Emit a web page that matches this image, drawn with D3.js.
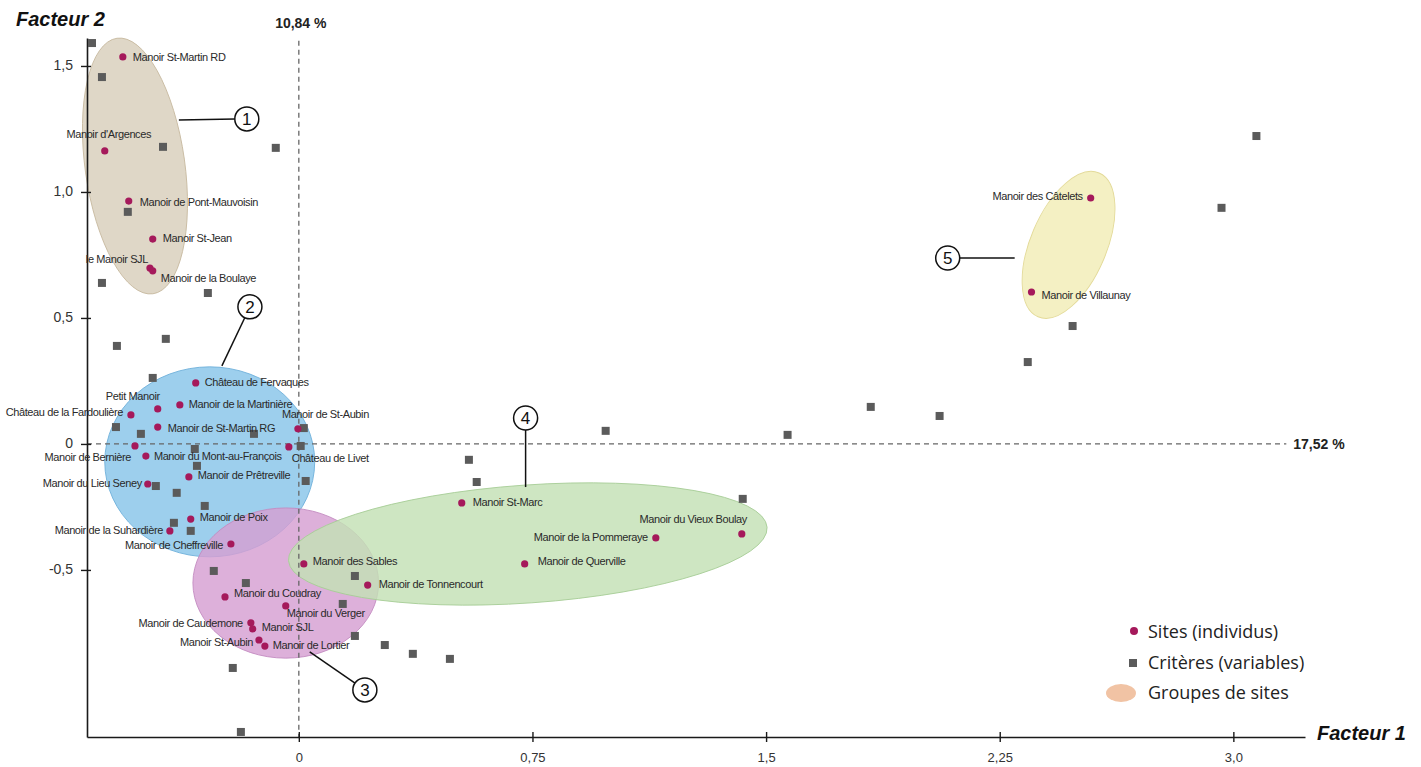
<!DOCTYPE html>
<html><head><meta charset="utf-8">
<script src="https://cdn.jsdelivr.net/npm/d3@7"></script>
<style>body{margin:0;background:#fff}svg{display:block}</style>
</head><body>
<svg id="chart" width="1421" height="767"></svg>
<script>
// ---------- DATA ----------
const siteNames = [
  "Manoir St-Martin RD","Manoir d'Argences","Manoir de Pont-Mauvoisin","Manoir St-Jean",
  "le Manoir SJL","Manoir de la Boulaye","Château de Fervaques","Petit Manoir",
  "Manoir de la Martinière","Château de la Fardoulière","Manoir de St-Martin RG","Manoir de St-Aubin",
  "Château de Livet","Manoir de Bernière","Manoir du Mont-au-François","Manoir de Prêtreville",
  "Manoir du Lieu Seney","Manoir de Poix","Manoir de la Suhardière","Manoir de Cheffreville",
  "Manoir des Sables","Manoir de Tonnencourt","Manoir du Coudray","Manoir du Verger",
  "Manoir de Caudemone","Manoir SJL","Manoir St-Aubin","Manoir de Lortier",
  "Manoir St-Marc","Manoir de Querville","Manoir de la Pommeraye","Manoir du Vieux Boulay",
  "Manoir des Câtelets","Manoir de Villaunay"
];
const siteX = [-0.565,-0.623,-0.546,-0.469,-0.478,-0.469,-0.331,-0.453,-0.382,-0.539,-0.453,-0.003,
  -0.032,-0.526,-0.491,-0.353,-0.485,-0.347,-0.414,-0.218,0.016,0.221,-0.237,-0.042,
  -0.154,-0.148,-0.128,-0.109,0.523,0.725,1.146,1.422,2.542,2.352];
const siteY = [1.536,1.163,0.964,0.813,0.698,0.687,0.242,0.139,0.155,0.115,0.067,0.060,
  -0.012,-0.008,-0.048,-0.131,-0.159,-0.298,-0.345,-0.397,-0.476,-0.560,-0.607,-0.643,
  -0.710,-0.734,-0.778,-0.802,-0.234,-0.476,-0.373,-0.357,0.976,0.603];

const critX = [-0.664,-0.632,-0.436,-0.074,-0.549,-0.632,-0.292,-0.427,-0.584,-0.469,-0.587,-0.507,
  -0.144,0.016,-0.334,0.006,-0.327,-0.459,0.022,-0.392,-0.302,-0.401,-0.347,-0.273,
  -0.170,0.180,0.141,0.180,0.276,0.366,0.485,-0.212,-0.186,0.546,0.571,0.985,
  1.425,1.569,1.836,2.057,2.340,2.484,2.962,3.074];
const critY = [1.591,1.456,1.179,1.175,0.921,0.639,0.599,0.417,0.389,0.262,0.067,0.040,
  0.040,0.063,-0.020,-0.008,-0.087,-0.167,-0.147,-0.194,-0.246,-0.313,-0.345,-0.504,
  -0.552,-0.524,-0.635,-0.762,-0.798,-0.833,-0.853,-0.889,-1.143,-0.063,-0.151,0.052,
  -0.218,0.036,0.147,0.111,0.325,0.468,0.937,1.222];

// site groups (ellipses in factor units)
const groupIds   = ["1","2","3","4","5"];
const groupCX    = [-0.526,-0.286,-0.042,0.735,2.471];
const groupCY    = [1.103,-0.071,-0.552,-0.397,0.790];
const groupRX    = [0.160,0.337,0.298,0.770,0.122];
const groupRY    = [0.512,0.377,0.298,0.234,0.310];
const groupAngle = [-8,0,0,-4,23];
// callout bubble centre and pointer end (factor units)
const calloutCX   = [-0.167,-0.157,0.212,0.728,2.083];
const calloutCY   = [1.290,0.544,-0.976,0.103,0.738];
const calloutEndX = [-0.385,-0.247,0.035,0.728,2.298];
const calloutEndY = [1.286,0.310,-0.825,-0.171,0.738];

const xTicks = [0,0.75,1.5,2.25,3.0];
const xTickLabels = ["0","0,75","1,5","2,25","3,0"];
const yTicks = [-0.5,0,0.5,1.0,1.5];
const yTickLabels = ["-0,5","0","0,5","1,0","1,5"];
const xAxisTitle = "Facteur 1", yAxisTitle = "Facteur 2";
const xInertia = "17,52 %", yInertia = "10,84 %";
const legendLabels = ["Sites (individus)","Critères (variables)","Groupes de sites"];

// ---------- LAYOUT / STYLE ----------
// label placement [dx, dy, anchor] per site (pixels)
const labelPlace = [
  [10,4,"start"],[4,-13,"middle"],[11,5,"start"],[10,3,"start"],
  [-2,-5,"end"],[8,11,"start"],[9,3,"start"],[2,-9,"end"],
  [9,3,"start"],[-8,1,"end"],[10,5,"start"],[-16,-11,"start"],
  [3,15,"start"],[-4,15,"end"],[8,4,"start"],[9,2,"start"],
  [-6,3,"end"],[9,2,"start"],[-7,3,"end"],[-8,5,"end"],
  [9,1,"start"],[11,3,"start"],[9,0,"start"],[1,11,"start"],
  [-8,4,"end"],[9,2,"start"],[-6,6,"end"],[8,3,"start"],
  [11,3,"start"],[13,1,"start"],[-8,3,"end"],[5,-11,"end"],
  [-8,2,"end"],[10,7,"start"]
];
const groupFill   = ["#d8cebb","#88c4e9","#d59fd2","#c3e0b4","#f2edb6"];
const groupStroke = ["#c8bba2","#6eb0da","#c38bc1","#a8cd97","#e3da98"];
const siteColor = "#a5195b", critColor = "#5b5b5b";
const F = "'Liberation Sans', Arial, Helvetica, sans-serif";

const svg = d3.select("#chart");
const x = d3.scaleLinear().domain([-0.68, 3.23]).range([87, 1305]);
const y = d3.scaleLinear().domain([-1.163, 1.611]).range([737, 38]);

// group ellipses
const groups = groupIds.map((id,i)=>({id,cx:groupCX[i],cy:groupCY[i],rx:groupRX[i],ry:groupRY[i],a:groupAngle[i],i}));
svg.append("g").selectAll("ellipse").data(groups).join("ellipse")
  .attr("transform", d=>`translate(${x(d.cx)},${y(d.cy)}) rotate(${d.a})`)
  .attr("rx", d=>x(d.cx+d.rx)-x(d.cx))
  .attr("ry", d=>y(d.cy)-y(d.cy+d.ry))
  .attr("fill", d=>groupFill[d.i]).attr("fill-opacity",0.82)
  .attr("stroke", d=>groupStroke[d.i]).attr("stroke-width",0.9);

// dashed reference lines
svg.append("line").attr("x1",x(0)).attr("x2",x(0)).attr("y1",y(1.6)).attr("y2",y.range()[0])
  .attr("stroke","#666").attr("stroke-width",1.3).attr("stroke-dasharray","5,4");
svg.append("line").attr("x1",x.range()[0]).attr("x2",x(3.17)).attr("y1",y(0)).attr("y2",y(0))
  .attr("stroke","#666").attr("stroke-width",1.3).attr("stroke-dasharray","5,4");

// axes
const yAxis = d3.axisLeft(y).tickValues(yTicks).tickFormat((d,i)=>yTickLabels[i])
  .tickSize(6).tickSizeOuter(0).tickPadding(8);
const gy = svg.append("g").attr("transform",`translate(${x.range()[0]},0)`).call(yAxis);
gy.select(".domain").attr("stroke","#1a1a1a").attr("stroke-width",1.6);
gy.selectAll(".tick line").attr("x1",4).attr("x2",-6).attr("stroke","#1a1a1a").attr("stroke-width",1.4);
gy.selectAll(".tick text").attr("font-family",F).attr("font-size",14).attr("fill","#333").attr("dy","0.28em");

const xAxis = d3.axisBottom(x).tickValues(xTicks).tickFormat((d,i)=>xTickLabels[i])
  .tickSize(5).tickSizeOuter(0).tickPadding(11);
const gx = svg.append("g").attr("transform",`translate(0,${y.range()[0]})`).call(xAxis);
gx.select(".domain").attr("stroke","#1a1a1a").attr("stroke-width",1.6);
gx.selectAll(".tick line").attr("y1",-5).attr("y2",5).attr("stroke","#1a1a1a").attr("stroke-width",1.4);
gx.selectAll(".tick text").attr("font-family",F).attr("font-size",13).attr("fill","#333");

// criteria squares
const crit = critX.map((v,i)=>({x:v,y:critY[i]}));
svg.append("g").selectAll("rect").data(crit).join("rect")
  .attr("x",d=>x(d.x)-4).attr("y",d=>y(d.y)-4).attr("width",8).attr("height",8)
  .attr("fill",critColor);

// sites
const sites = siteNames.map((n,i)=>({n,x:siteX[i],y:siteY[i],p:labelPlace[i]}));
svg.append("g").selectAll("circle").data(sites).join("circle")
  .attr("cx",d=>x(d.x)).attr("cy",d=>y(d.y)).attr("r",3.6).attr("fill",siteColor);
svg.append("g").selectAll("text").data(sites).join("text")
  .attr("x",d=>x(d.x)+d.p[0]).attr("y",d=>y(d.y)+d.p[1]).attr("text-anchor",d=>d.p[2])
  .attr("font-family",F).attr("font-size",11).attr("letter-spacing","-0.4px").attr("fill","#2a2a2a")
  .text(d=>d.n);

// callouts
const call = groupIds.map((id,i)=>({id,cx:x(calloutCX[i]),cy:y(calloutCY[i]),ex:x(calloutEndX[i]),ey:y(calloutEndY[i])}));
const R = 12;
const gc = svg.append("g");
gc.selectAll("line").data(call).join("line")
  .attr("x1",d=>{const a=Math.atan2(d.ey-d.cy,d.ex-d.cx);return d.cx+R*Math.cos(a);})
  .attr("y1",d=>{const a=Math.atan2(d.ey-d.cy,d.ex-d.cx);return d.cy+R*Math.sin(a);})
  .attr("x2",d=>d.ex).attr("y2",d=>d.ey).attr("stroke","#111").attr("stroke-width",1.5);
gc.selectAll("circle").data(call).join("circle")
  .attr("cx",d=>d.cx).attr("cy",d=>d.cy).attr("r",R).attr("fill","#fff").attr("stroke","#111").attr("stroke-width",1.5);
gc.selectAll("text").data(call).join("text")
  .attr("x",d=>d.cx).attr("y",d=>d.cy+6).attr("text-anchor","middle")
  .attr("font-family",F).attr("font-size",17).attr("fill","#111").text(d=>d.id);

// inertia labels & axis titles
svg.append("text").attr("x",x(0)+2).attr("y",28).attr("text-anchor","middle")
  .attr("font-family",F).attr("font-weight","bold").attr("font-size",14).attr("fill","#222").text(yInertia);
svg.append("text").attr("x",x(3.17)+7).attr("y",y(0)+5)
  .attr("font-family",F).attr("font-weight","bold").attr("font-size",14).attr("fill","#222").text(xInertia);
svg.append("text").attr("x",16).attr("y",26)
  .attr("font-family",F).attr("font-weight","bold").attr("font-style","italic").attr("font-size",20).attr("fill","#111").text(yAxisTitle);
svg.append("text").attr("x",1317).attr("y",740)
  .attr("font-family",F).attr("font-weight","bold").attr("font-style","italic").attr("font-size",20).attr("fill","#111").text(xAxisTitle);

// legend
const LF = "'Open Sans', 'Noto Sans', sans-serif";
const lg = svg.append("g").attr("transform","translate(1148,0)");
lg.append("circle").attr("cx",-14).attr("cy",631).attr("r",4).attr("fill",siteColor);
lg.append("rect").attr("x",-19).attr("y",659).attr("width",8).attr("height",8).attr("fill",critColor);
lg.append("ellipse").attr("cx",-27).attr("cy",693).attr("rx",15).attr("ry",9).attr("fill","#f1c3a4");
lg.selectAll("text").data(legendLabels).join("text")
  .attr("x",0).attr("y",(d,i)=>638+i*30.5)
  .attr("font-family",LF).attr("font-size",18).attr("fill","#222").text(d=>d);
</script>
</body></html>
